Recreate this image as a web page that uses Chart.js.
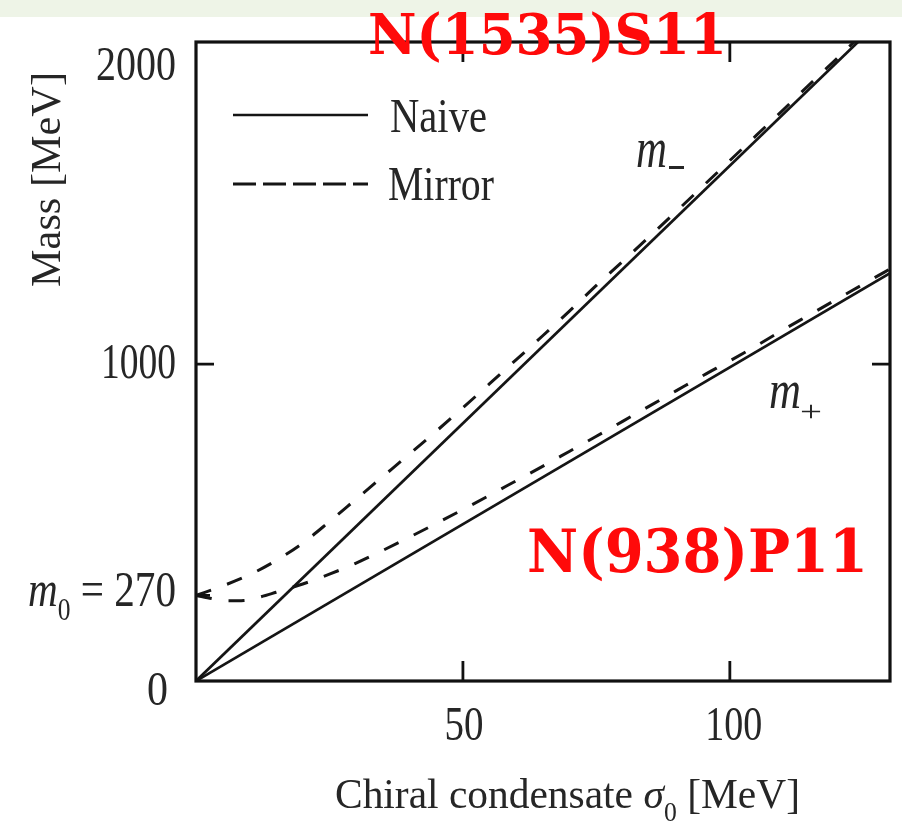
<!DOCTYPE html>
<html><head><meta charset="utf-8">
<script src="https://cdn.jsdelivr.net/npm/chart.js@4.4.0/dist/chart.umd.min.js"></script>
<style>html,body{margin:0;padding:0;background:#fff;}canvas{display:block;}</style>
</head><body>
<canvas id="c" width="902" height="830"></canvas>
<script>
// ---- data ----
const sigmaNaiveMinus = [0, 124];
const massNaiveMinus  = [0, 2016];
const sigmaNaivePlus  = [0, 130];
const massNaivePlus   = [0, 1287];
const sigmaMirrorMinus = [0,5,10,15,20,25,30,35,40,45,50,55,60,65,70,75,80,85,90,95,100,105,110,115,120,125];
const massMirrorMinus  = [270,300,335,380,435,503,574,645,716,788,862,938,1014,1090,1168,1248,1325,1403,1482,1562,1642,1722,1802,1883,1963,2044];
const sigmaMirrorPlus  = [0,3,6,9,12,15,20,25,30,35,40,45,50,55,60,65,70,75,80,85,90,95,100,105,110,115,120,125,130];
const massMirrorPlus   = [270,260,253,254,265,280,306,337,372,412,454,497,541,586,632,678,725,772,820,868,916,964,1010,1058,1108,1156,1204,1252,1300];
const xTickValues = [50, 100];
const xTickLabels = ['50', '100'];
const yTickValues = [0, 270, 1000, 2000];
const yTickLabels = ['0', '= 270', '1000', '2000'];
const legendLabels = ['Naive', 'Mirror'];
const xTitle = ['Chiral condensate ', 'σ', '0', ' [MeV]'];
const yTitle = 'Mass [MeV]';
const curveLabels = ['m', '−', '+'];
const stateLabels = ['N(1535)S11', 'N(938)P11'];

function pts(xs, ys){ return xs.map((x,i)=>({x:x, y:ys[i]})); }

const LINE = '#151515', TXT = '#262626';
const SERIF = '"Liberation Serif", "Times New Roman", serif';

function fontStr(p, size){
  return (p.style||'normal')+' '+(p.weight||'normal')+' '+size+'px '+(p.family||SERIF);
}
// draw text parts fitted to a given width and glyph height
function drawFit(ctx, parts, o){
  const B = 100;
  let W = 0; const ws = [];
  parts.forEach(p=>{ ctx.font = fontStr(p, B*(p.scale||1)); const w = ctx.measureText(p.t).width; ws.push(w); W += w; });
  const k = o.width / W, fs = B*k;
  const ref = o.refPart!==undefined ? parts[o.refPart] : parts[0];
  ctx.font = fontStr(ref, B*(ref.scale||1));
  const asc = ctx.measureText(o.ascRef || 'H').actualBoundingBoxAscent * k;
  const sy = o.height / asc;
  let x0 = o.align==='center' ? -o.width/2 : (o.align==='right' ? -o.width : 0);
  ctx.save();
  ctx.translate(o.x, o.baseline);
  if (o.rot) ctx.rotate(o.rot);
  ctx.scale(1, sy);
  ctx.fillStyle = o.color || TXT;
  ctx.textBaseline = 'alphabetic';
  ctx.textAlign = 'left';
  let x = x0;
  parts.forEach((p,i)=>{
    ctx.font = fontStr(p, fs*(p.scale||1));
    ctx.fillText(p.t, x, (p.dy||0)*fs);
    x += ws[i]*k;
  });
  ctx.restore();
}

const deco = {
  id: 'deco',
  beforeDraw(chart){
    const ctx = chart.ctx;
    ctx.save();
    ctx.fillStyle = '#ffffff'; ctx.fillRect(0,0,chart.width,chart.height);
    ctx.fillStyle = '#eef4e7'; ctx.fillRect(0,0,chart.width,17);
    ctx.restore();
  },
  afterDraw(chart){
    const ctx = chart.ctx, a = chart.chartArea;
    const xs = chart.scales.x, ys = chart.scales.y;
    ctx.save();
    // frame
    ctx.strokeStyle = '#111'; ctx.lineWidth = 3.2; ctx.setLineDash([]);
    ctx.strokeRect(a.left, a.top, a.right-a.left, a.bottom-a.top);
    // inward ticks
    ctx.lineWidth = 2.8;
    ctx.beginPath();
    xTickValues.forEach(v=>{
      const px = xs.getPixelForValue(v);
      ctx.moveTo(px, a.bottom); ctx.lineTo(px, a.bottom-20);
      ctx.moveTo(px, a.top); ctx.lineTo(px, a.top+20);
    });
    const p1000 = ys.getPixelForValue(yTickValues[2]);
    ctx.moveTo(a.left, p1000); ctx.lineTo(a.left+18, p1000);
    ctx.moveTo(a.right, p1000); ctx.lineTo(a.right-18, p1000);
    const p270 = ys.getPixelForValue(yTickValues[1]);
    ctx.moveTo(a.left, p270); ctx.lineTo(a.left+14, p270);
    ctx.stroke();
    ctx.restore();

    // x tick labels
    drawFit(ctx, [{t:xTickLabels[0]}], {x: xs.getPixelForValue(xTickValues[0])+1, align:'center', width:39, baseline:740, height:32, ascRef:'0'});
    drawFit(ctx, [{t:xTickLabels[1]}], {x: xs.getPixelForValue(xTickValues[1])+4, align:'center', width:57, baseline:740, height:32, ascRef:'0'});
    // y tick labels
    drawFit(ctx, [{t:yTickLabels[3]}], {x:176, align:'right', width:80, baseline: ys.getPixelForValue(yTickValues[3])+33, height:32, ascRef:'0'});
    drawFit(ctx, [{t:yTickLabels[2]}], {x:176, align:'right', width:75, baseline: p1000+14, height:33, ascRef:'0'});
    drawFit(ctx, [{t:curveLabels[0], style:'italic'}, {t:'0', scale:0.62, dy:0.28}, {t:' '+yTickLabels[1]}],
            {x:28, align:'left', width:148, baseline: p270+11, height:33, ascRef:'0', refPart:2});
    drawFit(ctx, [{t:yTickLabels[0]}], {x:168, align:'right', width:21, baseline: ys.getPixelForValue(yTickValues[0])+24, height:32, ascRef:'0'});

    // axis titles
    drawFit(ctx, [{t:xTitle[0]}, {t:xTitle[1], style:'italic'}, {t:xTitle[2], scale:0.62, dy:0.3}, {t:xTitle[3]}],
            {x:335, align:'left', width:465, baseline:808, height:28});
    drawFit(ctx, [{t:yTitle}], {x:60, baseline:287, rot:-Math.PI/2, align:'left', width:215, height:28});

    // legend
    ctx.save();
    ctx.strokeStyle = LINE; ctx.lineWidth = 2.6;
    ctx.beginPath(); ctx.setLineDash([]); ctx.moveTo(233,115); ctx.lineTo(368,115); ctx.stroke();
    ctx.lineWidth = 3;
    ctx.beginPath(); ctx.setLineDash([23,7]); ctx.moveTo(233,184); ctx.lineTo(368,184); ctx.stroke();
    ctx.restore();
    drawFit(ctx, [{t:legendLabels[0]}], {x:390, align:'left', width:97, baseline:132, height:32});
    drawFit(ctx, [{t:legendLabels[1]}], {x:388, align:'left', width:106, baseline:200, height:32});

    // curve labels m-, m+
    drawFit(ctx, [{t:curveLabels[0], style:'italic'}], {x:636, align:'left', width:31, baseline:167, height:27, ascRef:'m'});
    ctx.save(); ctx.fillStyle = TXT; ctx.fillRect(669, 166, 15, 3); ctx.restore();
    drawFit(ctx, [{t:curveLabels[0], style:'italic'}], {x:769, align:'left', width:32, baseline:408, height:26, ascRef:'m'});
    drawFit(ctx, [{t:curveLabels[2]}], {x:800, align:'left', width:22, baseline:421, height:17, ascRef:'+'});

    // red state labels
    const RED = {family:'"DejaVu Serif", serif', weight:'bold'};
    drawFit(ctx, [Object.assign({t:stateLabels[0]}, RED)], {x:368, align:'left', width:359, baseline:54, height:41, ascRef:'N', color:'#ff0a0a'});
    drawFit(ctx, [Object.assign({t:stateLabels[1]}, RED)], {x:527, align:'left', width:341, baseline:572, height:44, ascRef:'N', color:'#ff0a0a'});
  }
};

new Chart(document.getElementById('c'), {
  type: 'line',
  data: {
    datasets: [
      {label:'Naive m−', data: pts(sigmaNaiveMinus, massNaiveMinus), borderColor: LINE, borderWidth: 2.7, pointRadius: 0, fill:false},
      {label:'Naive m+', data: pts(sigmaNaivePlus, massNaivePlus), borderColor: LINE, borderWidth: 2.7, pointRadius: 0, fill:false},
      {label:'Mirror m−', data: pts(sigmaMirrorMinus, massMirrorMinus), borderColor: LINE, borderWidth: 3, borderDash:[16,17], pointRadius: 0, fill:false, cubicInterpolationMode:'monotone'},
      {label:'Mirror m+', data: pts(sigmaMirrorPlus, massMirrorPlus), borderColor: LINE, borderWidth: 3, borderDash:[16,17], pointRadius: 0, fill:false, cubicInterpolationMode:'monotone'}
    ]
  },
  options: {
    responsive: false,
    animation: false,
    layout: {padding: {left:196, right:12, top:42, bottom:149}},
    plugins: {legend:{display:false}, title:{display:false}, tooltip:{enabled:false}},
    scales: {
      x: {type:'linear', min:0, max:130, display:false},
      y: {type:'linear', min:0, max:2016, display:false}
    }
  },
  plugins: [deco]
});
</script>
</body></html>
